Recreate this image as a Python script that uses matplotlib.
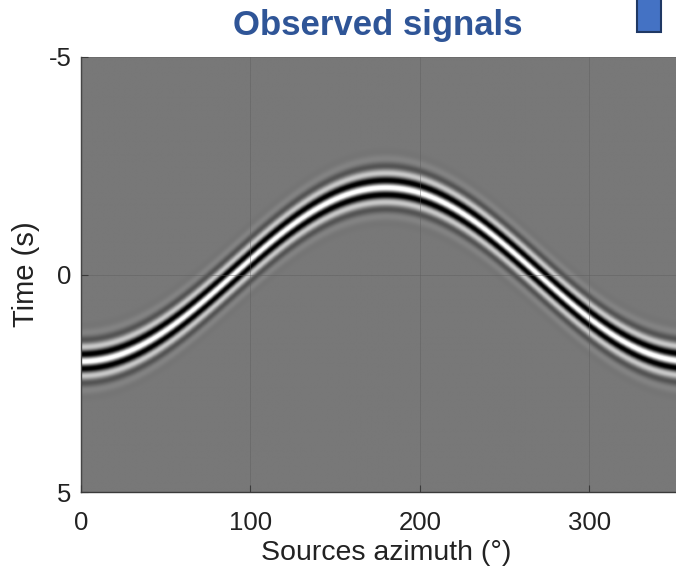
import numpy as np
import matplotlib
matplotlib.use("Agg")
import matplotlib.pyplot as plt
from matplotlib.patches import Rectangle
from matplotlib.colors import Normalize

plt.rcParams['font.family'] = ['Liberation Sans', 'DejaVu Sans']
plt.rcParams['axes.unicode_minus'] = False

# --- data / model parameters ---
azimuth_range = [0, 360]          # degrees
time_range = [-5, 5]              # seconds
arrival_amplitude = 2.0           # s: arrival time = amplitude * cos(azimuth)
wavelet_freq = 2.9                # Hz
wavelet_width = 0.42              # s, gaussian envelope
x_ticks = [0, 100, 200, 300]
y_ticks = [-5, 0, 5]
title = "Observed signals"
xlabel = "Sources azimuth (\u00b0)"
ylabel = "Time (s)"

az = np.linspace(azimuth_range[0], azimuth_range[1], 721)
t = np.linspace(time_range[0], time_range[1], 801)
A, T = np.meshgrid(az, t)
arrival = arrival_amplitude * np.cos(np.deg2rad(A))
tau = T - arrival
field = np.cos(2 * np.pi * wavelet_freq * tau) * np.exp(-(tau / wavelet_width) ** 2)

fig = plt.figure(figsize=(6.76, 5.72), dpi=100)
ax = fig.add_axes([81/676, 80/572, 610/676, 435/572])
ax.imshow(field, cmap='gray', norm=Normalize(vmin=-0.78, vmax=0.88), aspect='auto',
          extent=[az[0], az[-1], t[-1], t[0]], interpolation='bilinear', zorder=0)
ax.set_xlim(azimuth_range)
ax.set_ylim(time_range[1], time_range[0])
ax.set_xticks(x_ticks)
ax.set_yticks(y_ticks)
ax.grid(True, color='#5a5a5a', linewidth=0.6, alpha=0.45)
ax.set_axisbelow(False)
for s in ['top', 'right']:
    ax.spines[s].set_visible(False)
for s in ['left', 'bottom']:
    ax.spines[s].set_color('#3a3a3a')
    ax.spines[s].set_linewidth(1.0)
ax.tick_params(direction='in', length=5, width=0.8, color='#3a3a3a',
               labelsize=18.5, labelcolor='#222222')
ax.tick_params(axis='x', pad=14)
ax.tick_params(axis='y', pad=7)
ax.set_xlabel(xlabel, fontsize=20.5, color='#222222', labelpad=3)
ax.set_ylabel(ylabel, fontsize=21, color='#222222', labelpad=6)
fig.text(378/676, 1 - 26/572, title, fontsize=25, fontweight='bold',
         color='#2f5597', ha='center', va='center')

fig.patches.append(Rectangle((637/676, 1 - 32/572), 24/676, 40/572,
                             transform=fig.transFigure, facecolor='#4472c4',
                             edgecolor='#1f3864', linewidth=1.5))

fig.savefig('out.png', dpi=100)
